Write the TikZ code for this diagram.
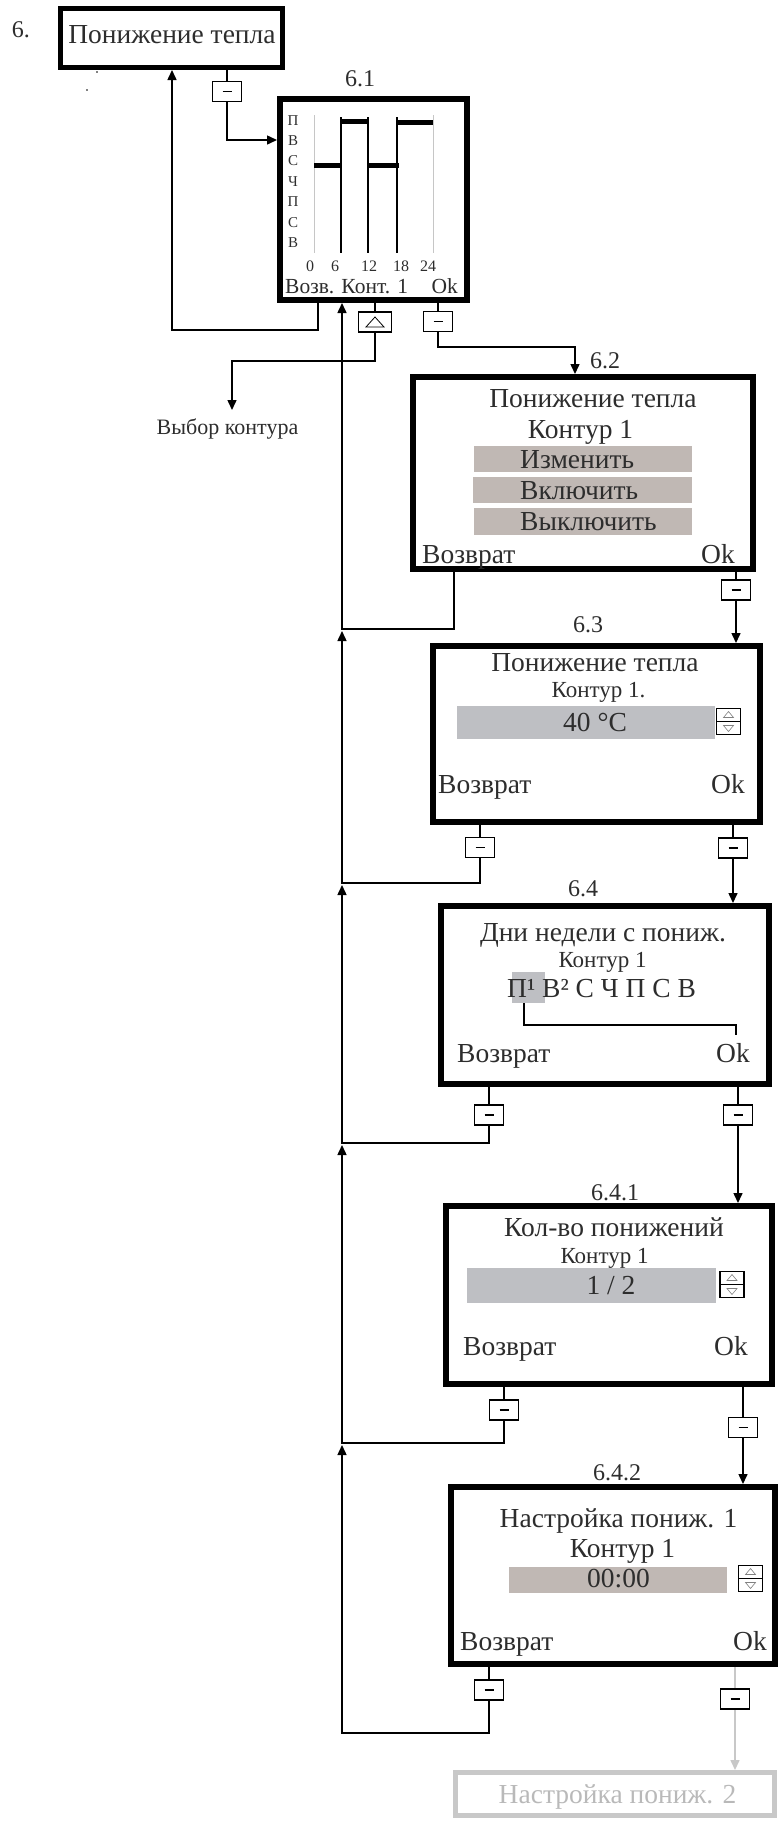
\documentclass[tikz,border=0pt]{standalone}
\usepackage{fontspec}
\setmainfont{Liberation Serif}
\usetikzlibrary{arrows.meta}
\definecolor{ink}{RGB}{45,45,45}
\definecolor{barbrown}{RGB}{192,184,180}
\definecolor{bargray}{RGB}{190,191,195}
\definecolor{ghost}{RGB}{200,200,200}
\definecolor{ghosttext}{RGB}{185,185,185}
\begin{document}
\begin{tikzpicture}[x=1pt,y=-1pt,
  conn/.style={line width=1.5pt, draw=black},
  arr/.style={-{Triangle[length=10pt,width=9pt]}},
  screen/.style={draw=black, line width=6pt, inner sep=0pt},
  btn/.style={draw=black, line width=1.3pt, fill=white, minimum width=29pt, minimum height=20pt, inner sep=0pt},
  minus/.style={btn, path picture={\draw[line width=1.6pt] ([xshift=-4.5pt]path picture bounding box.center) -- ([xshift=4.5pt]path picture bounding box.center);}},
  tri/.style={btn, minimum width=33pt, path picture={\draw[line width=0.8pt] ([xshift=-9pt,yshift=-5pt]path picture bounding box.center) -- ([yshift=5pt]path picture bounding box.center) -- ([xshift=9pt,yshift=-5pt]path picture bounding box.center) -- cycle;}},
  big/.style={font=\fontsize{27.5}{30}\selectfont, text=ink, inner sep=0pt, anchor=base},
  mid/.style={font=\fontsize{23}{25}\selectfont, text=ink, inner sep=0pt, anchor=base},
  lbl/.style={font=\fontsize{24}{26}\selectfont, text=ink, inner sep=0pt, anchor=base},
  tiny/.style={font=\fontsize{15}{16}\selectfont, text=ink, inner sep=0pt, anchor=base},
  bar/.style={inner sep=0pt, draw=none},
  updown/.pic={
    \draw[line width=1.2pt, fill=white] (-12,-13) rectangle (12,13);
    \draw[line width=1.2pt] (-12,0) -- (12,0);
    \draw[line width=0.6pt, gray] (-5,-4) -- (0,-10) -- (5,-4) -- cycle;
    \draw[line width=0.6pt, gray] (-5,4) -- (0,10) -- (5,4) -- cycle;
  }
]
\useasboundingbox (0,0) rectangle (779,1831);

% ---------- top box ----------
\node[lbl] (n6) at (21,37) {6.};
\node[screen, line width=5pt, minimum width=222pt, minimum height=59pt] (top) at (171.5,38) {};
\node[big] (toptxt) at (172,43) {Понижение тепла};
\fill[black] (97,72) circle (0.9pt);
\fill[black] (87,90) circle (0.9pt);
\node[minus] (b0) at (227,91.5) {};

% ---------- 6.1 ----------
\node[lbl] (l61) at (360,86) {6.1};
\node[screen, minimum width=187pt, minimum height=201pt] (s61) at (373.5,199.5) {};
\foreach \d [count=\i from 0] in {П,В,С,Ч,П,С,В}
  \node[tiny] (day\i) at (293,{125+20.4*\i}) {\d};
\draw[gray!45, line width=0.7pt] (314,115) -- (314,253);
\draw[gray!45, line width=0.7pt] (433,115) -- (433,253);
\draw[line width=1.3pt] (341,117) -- (341,253);
\draw[line width=1.3pt] (368,117) -- (368,253);
\draw[line width=1.3pt] (397,117) -- (397,253);
\draw[line width=5pt] (341,121) -- (368,121);
\draw[line width=5pt] (397,122) -- (433,122);
\draw[line width=5pt] (314,165) -- (341,165);
\draw[line width=5pt] (368,165) -- (399,165);
\node[tiny, font=\fontsize{16}{17}\selectfont] (h0) at (310,271) {0};
\node[tiny, font=\fontsize{16}{17}\selectfont] (h6) at (335,271) {6};
\node[tiny, font=\fontsize{16}{17}\selectfont] (h12) at (369,271) {12};
\node[tiny, font=\fontsize{16}{17}\selectfont] (h18) at (401,271) {18};
\node[tiny, font=\fontsize{16}{17}\selectfont] (h24) at (428,271) {24};
\node[mid, font=\fontsize{21.5}{23}\selectfont, anchor=base west] (ret61) at (285,293) {Возв. Конт. 1};
\node[mid, font=\fontsize{21.5}{23}\selectfont, anchor=base east] (ok61) at (458,293) {Ok};
\node[tri] (bt) at (375,322) {};
\node[minus] (b61) at (438,321.5) {};
\node[mid, font=\fontsize{22}{24}\selectfont] (vk) at (227.5,434) {Выбор контура};
\coordinate (vkarrow) at (232,410);

% ---------- 6.2 ----------
\node[lbl, anchor=base west] (l62) at (590,368) {6.2};
\node[screen, minimum width=340pt, minimum height=192pt] (s62) at (583,473) {};
\node[big] (t62) at (593,407) {Понижение тепла};
\node[big] (k62) at (580.5,438) {Контур 1};
\node[bar, fill=barbrown, minimum width=218pt, minimum height=26pt] (bar621) at (583,459) {};
\node[bar, fill=barbrown, minimum width=219pt, minimum height=26pt] (bar622) at (582.5,490) {};
\node[bar, fill=barbrown, minimum width=218pt, minimum height=27pt] (bar623) at (583,521.5) {};
\node[big, anchor=base west] (o621) at (520,468) {Изменить};
\node[big, anchor=base west] (o622) at (520,499) {Включить};
\node[big, anchor=base west] (o623) at (520,530) {Выключить};
\node[big, anchor=base west] (r62) at (422,563) {Возврат};
\node[big, anchor=base east] (ok62) at (735,563) {Ok};
\node[minus] (b62) at (736,590) {};

% ---------- 6.3 ----------
\node[lbl] (l63) at (588,632) {6.3};
\node[screen, minimum width=327pt, minimum height=176pt] (s63) at (596.5,734) {};
\node[big] (t63) at (595,671) {Понижение тепла};
\node[mid] (k63) at (598.5,697) {Контур 1.};
\node[bar, fill=bargray, minimum width=258pt, minimum height=33pt] (bar63) at (586,722.5) {};
\node[big] (v63) at (595,731) {40 °C};
\pic at (728.5,721.5) {updown};
\node[big, anchor=base west] (r63) at (438,793) {Возврат};
\node[big, anchor=base east] (ok63) at (745,793) {Ok};
\node[minus] (b63l) at (480,847.5) {};
\node[minus] (b63r) at (733,848) {};

% ---------- 6.4 ----------
\node[lbl] (l64) at (583,896) {6.4};
\node[screen, minimum width=328pt, minimum height=178pt] (s64) at (605,995) {};
\node[big] (t64) at (603,941) {Дни недели с пониж.};
\node[mid] (k64) at (602.5,967) {Контур 1};
\node[bar, fill=bargray, minimum width=33pt, minimum height=31pt] (hl) at (528.5,987.5) {};
\node[big, anchor=base west] (days) at (507,997) {П¹ В² С Ч П С В};
\coordinate (okin) at (736,1035);
\draw[line width=1.2pt] (hl.south -| 524,0) |- (736,1025) -- (okin);
\node[big, anchor=base west] (r64) at (457,1062) {Возврат};
\node[big, anchor=base east] (ok64) at (750,1062) {Ok};
\node[minus] (b64l) at (489,1115) {};
\node[minus] (b64r) at (738,1115) {};

% ---------- 6.4.1 ----------
\node[lbl] (l641) at (615,1200) {6.4.1};
\node[screen, minimum width=326pt, minimum height=178pt] (s641) at (609,1295) {};
\node[big] (t641) at (614,1236) {Кол-во понижений};
\node[mid] (k641) at (604.5,1263) {Контур 1};
\node[bar, fill=bargray, minimum width=249pt, minimum height=35pt] (bar641) at (591.5,1285.5) {};
\node[big] (v641) at (611,1294) {1 / 2};
\pic at (732,1284.5) {updown};
\node[big, anchor=base west] (r641) at (463,1355) {Возврат};
\node[big, anchor=base east] (ok641) at (748,1355) {Ok};
\node[minus] (b641l) at (504,1410) {};
\node[minus] (b641r) at (743,1427.5) {};

% ---------- 6.4.2 ----------
\node[lbl] (l642) at (617,1480) {6.4.2};
\node[screen, minimum width=324pt, minimum height=177pt] (s642) at (613,1575.5) {};
\node[big] (t642) at (618.5,1527) {Настройка пониж. 1};
\node[big] (k642) at (622.5,1557) {Контур 1};
\node[bar, fill=barbrown, minimum width=218pt, minimum height=26pt] (bar642) at (618,1580) {};
\node[big] (v642) at (618.5,1587) {00:00};
\pic at (750.5,1578.5) {updown};
\node[big, anchor=base west] (r642) at (460,1650) {Возврат};
\node[big, anchor=base east] (ok642) at (767,1650) {Ok};
\node[minus] (b642l) at (489,1690) {};

% ---------- next (ghost) ----------
\node[draw=ghost, line width=5pt, inner sep=0pt, minimum width=319pt, minimum height=43pt] (next) at (615,1794) {};
\node[big, text=ghosttext] (tnext) at (617.5,1803) {Настройка пониж. 2};
\draw[conn, draw=ghost, arr] (s642.south -| 735,0) -- (next.north -| 735,0);
\node[minus] (b642r) at (735,1699) {};

% ---------- connectors ----------
\draw[conn] (top.south -| b0) -- (b0);
\draw[conn, arr] (b0) |- (s61.west |- 0,140);
\draw[conn, arr] (s61.south -| 318,0) -- (318,330) -- (172,330) -- (top.south -| 172,0);
\draw[conn] (s61.south -| bt) -- (bt);
\draw[conn, arr] (bt) |- (232,361) -- (vkarrow);
\draw[conn] (s61.south -| b61) -- (b61);
\draw[conn, arr] (b61) |- (575,347) -- (s62.north -| 575,0);

\draw[conn, arr] (s62.south -| 454,0) |- (342,629) -- (s61.south -| 342,0);
\draw[conn] (s62.south -| b62) -- (b62);
\draw[conn, arr] (b62) -- (s63.north -| b62);

\draw[conn] (s63.south -| b63l) -- (b63l);
\draw[conn, arr] (b63l) |- (342,883) -- (342,631);
\draw[conn] (s63.south -| b63r) -- (b63r);
\draw[conn, arr] (b63r) -- (s64.north -| b63r);

\draw[conn] (s64.south -| b64l) -- (b64l);
\draw[conn, arr] (b64l) |- (342,1143) -- (342,885);
\draw[conn] (s64.south -| b64r) -- (b64r);
\draw[conn, arr] (b64r) -- (s641.north -| b64r);

\draw[conn] (s641.south -| b641l) -- (b641l);
\draw[conn, arr] (b641l) |- (342,1443) -- (342,1145);
\draw[conn] (s641.south -| b641r) -- (b641r);
\draw[conn, arr] (b641r) -- (s642.north -| b641r);

\draw[conn] (s642.south -| b642l) -- (b642l);
\draw[conn, arr] (b642l) |- (342,1733) -- (342,1445);
\end{tikzpicture}
\end{document}
